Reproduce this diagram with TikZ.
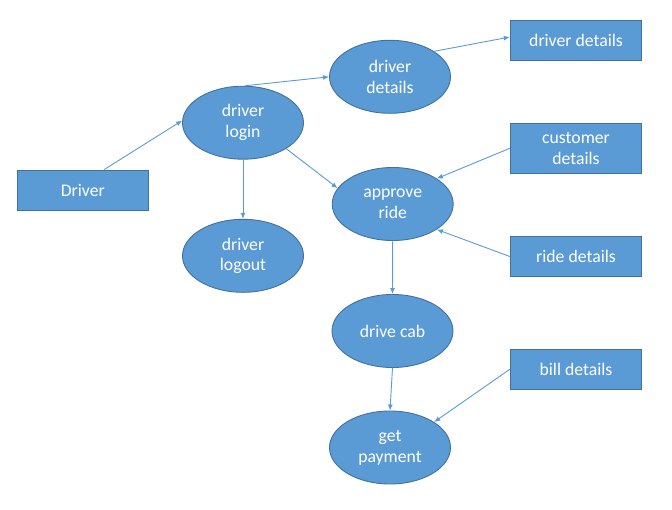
\documentclass[tikz,border=0pt]{standalone}
\usepackage{fontspec}
\setmainfont{Carlito}
\usetikzlibrary{shapes.geometric,arrows.meta}
\definecolor{boxfill}{HTML}{5B9BD5}
\definecolor{boxedge}{HTML}{41719C}
\definecolor{arrowc}{HTML}{5B9BD5}
\tikzset{
  proc/.style={ellipse, draw=boxedge, fill=boxfill, line width=0.9pt, minimum width=121pt, minimum height=73pt, inner sep=0pt, align=center, text=white, font=\fontsize{17.7}{20.8}\selectfont},
  ent/.style={rectangle, draw=boxedge, fill=boxfill, line width=0.9pt, minimum width=131.5pt, minimum height=40.4pt, inner sep=0pt, align=center, text=white, font=\fontsize{17.7}{20.8}\selectfont},
  flow/.style={draw=arrowc, line width=0.9pt, -{Latex[length=6pt,width=5pt]}}
}
\begin{document}
\begin{tikzpicture}[x=1pt,y=-1pt]
\useasboundingbox (0,0) rectangle (672,509);
\node[ent] (drv) at (82.8,190.2) {Driver};
\node[proc] (login) at (243,122.7) {driver\\login};
\node[proc] (logout) at (243,255.8) {driver\\logout};
\node[proc] (det) at (390,76.8) {driver\\details};
\node[proc] (appr) at (392.7,204) {approve\\ride};
\node[proc] (cab) at (392.5,331) {drive cab};
\node[proc] (pay) at (390,447.5) {get\\payment};
\node[ent] (rd) at (576,40.5) {driver details};
\node[ent, minimum height=50pt] (cust) at (576,148.3) {customer\\details};
\node[ent] (ride) at (576,256.5) {ride details};
\node[ent] (bill) at (576,369.3) {bill details};
\draw[flow] (drv.44) -- (login.178);
\draw[flow] (login.87) -- (det.180);
\draw[flow] (login.south) -- (logout.north);
\draw[flow] (login.-31) -- (appr.164);
\draw[flow] (det.30) -- (rd.177);
\draw[flow] (cust.west) -- (appr.30);
\draw[flow] (ride.west) -- (appr.-30);
\draw[flow] (appr.south) -- (cab.north);
\draw[flow] (cab.south) -- (pay.north);
\draw[flow] (bill.west) -- (pay.30);
\end{tikzpicture}
\end{document}
